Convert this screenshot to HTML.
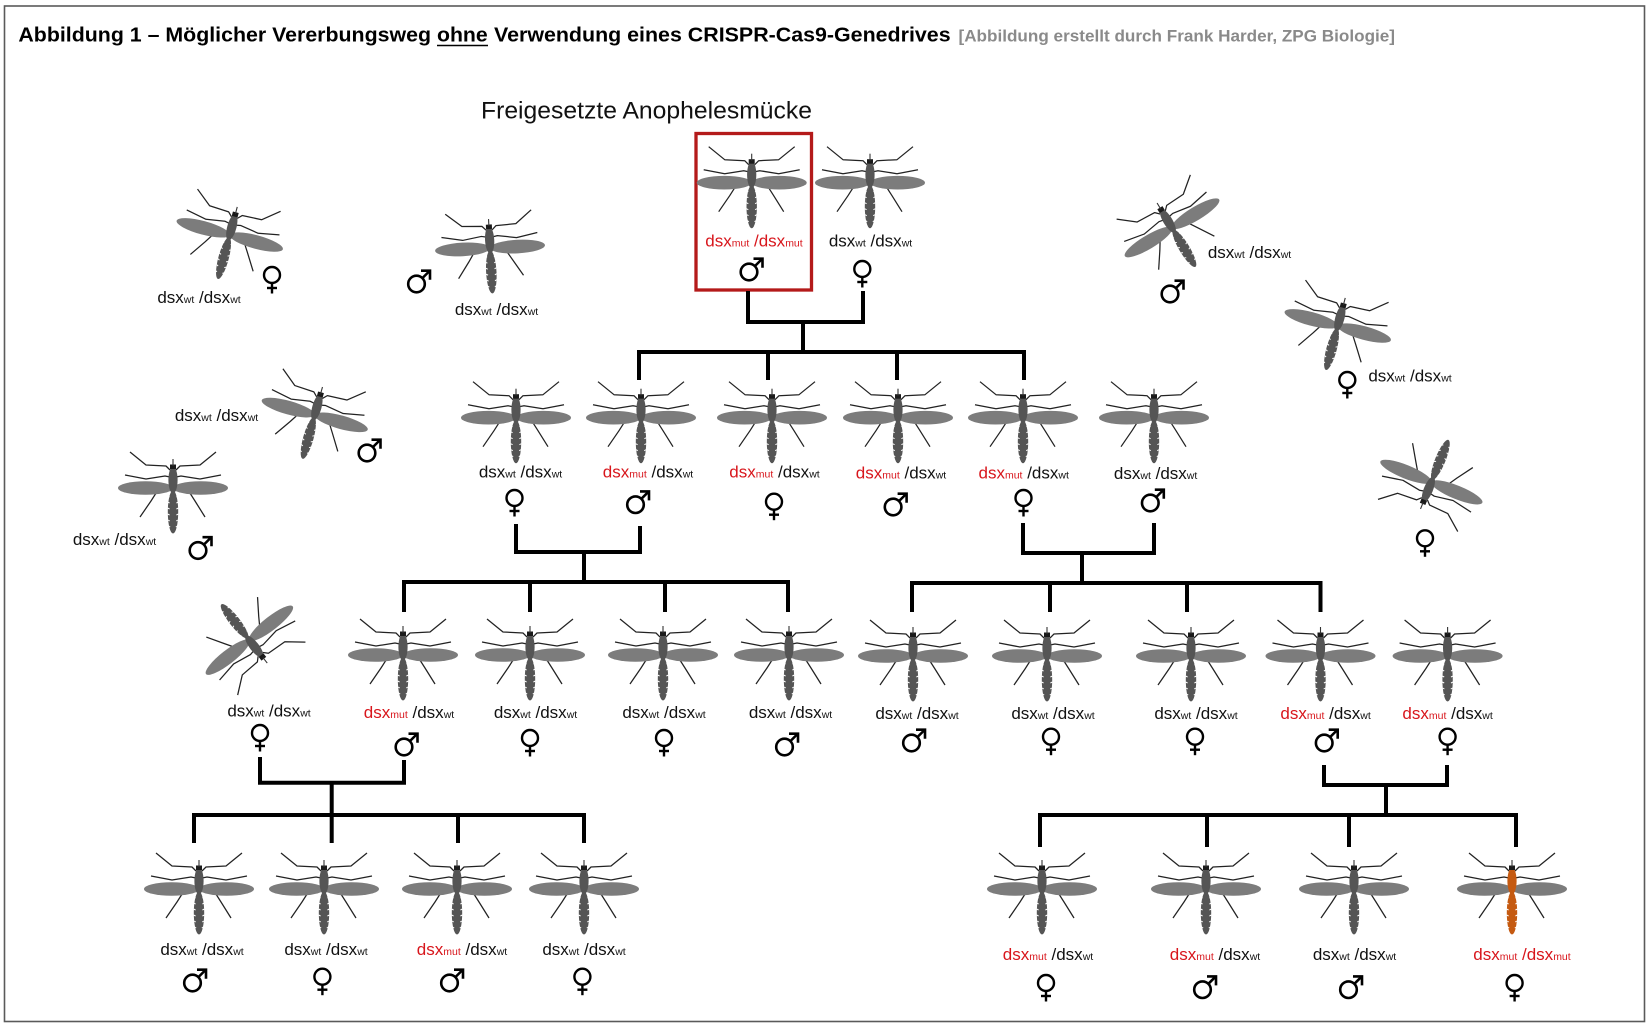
<!DOCTYPE html>
<html><head><meta charset="utf-8">
<style>
html,body{margin:0;padding:0;background:#fff;}
svg{display:block;}
.lb{font-family:"Liberation Sans",Arial,sans-serif;font-size:17px;fill:#111;}
.s{font-size:10.5px;}
.r{fill:#d8161c;}
</style></head>
<body>
<svg width="1648" height="1027" viewBox="0 0 1648 1027" xmlns="http://www.w3.org/2000/svg">
<defs>
  <g id="legs" fill="none" stroke="#222" stroke-width="1.25" stroke-linejoin="round">
    <polyline points="-3,-17 -7,-21 -27,-22 -43,-35"/>
    <polyline points="3,-17 7,-21 27,-22 43,-35"/>
    <polyline points="-3,-10 -8,-11 -27,-8 -48,-12"/>
    <polyline points="3,-10 8,-11 27,-8 48,-12"/>
    <polyline points="-4,0 -15,3 -22,14 -33,30"/>
    <polyline points="4,0 15,3 22,14 32,30"/>
  </g>
  <g id="wings" fill="#7c7c7c">
    <ellipse cx="-27.5" cy="1" rx="27.5" ry="6.8"/>
    <ellipse cx="27.5" cy="1" rx="27.5" ry="6.8"/>
  </g>
  <g id="notch" stroke="#fff" stroke-width="1">
    <line x1="-5.4" y1="9" x2="-3.4" y2="10"/><line x1="5.4" y1="9" x2="3.4" y2="10"/>
    <line x1="-5.4" y1="15" x2="-3.4" y2="16"/><line x1="5.4" y1="15" x2="3.4" y2="16"/>
    <line x1="-5.4" y1="21" x2="-3.4" y2="22"/><line x1="5.4" y1="21" x2="3.4" y2="22"/>
    <line x1="-5.4" y1="27" x2="-3.4" y2="28"/><line x1="5.4" y1="27" x2="3.4" y2="28"/>
    <line x1="-5" y1="33" x2="-3.2" y2="34"/><line x1="5" y1="33" x2="3.2" y2="34"/>
    <line x1="-4.4" y1="39" x2="-2.8" y2="40"/><line x1="4.4" y1="39" x2="2.8" y2="40"/>
  </g>
  <g id="mq">
    <use href="#legs"/>
    <use href="#wings"/>
    <ellipse cx="0" cy="-7" rx="4.6" ry="13.5" fill="#555"/>
    <ellipse cx="0" cy="25" rx="5.2" ry="21.5" fill="#555"/>
    <use href="#notch"/>
    <rect x="-3" y="-22.5" width="6" height="4.5" fill="#1a1a1a"/>
    <line x1="0" y1="-28" x2="0" y2="-21" stroke="#333" stroke-width="1.1"/>
  </g>
  <g id="mqo">
    <use href="#legs"/>
    <use href="#wings"/>
    <ellipse cx="0" cy="-7" rx="4.6" ry="13.5" fill="#c55a11"/>
    <ellipse cx="0" cy="25" rx="5.2" ry="21.5" fill="#c55a11"/>
    <use href="#notch"/>
    <rect x="-3" y="-22.5" width="6" height="4.5" fill="#1a1a1a"/>
    <line x1="0" y1="-28" x2="0" y2="-21" stroke="#333" stroke-width="1.1"/>
  </g>
  <g id="male" fill="none" stroke="#000" stroke-width="2.6">
    <circle cx="-3.5" cy="3" r="8.3"/>
    <line x1="2.5" y1="-3" x2="9.5" y2="-10"/>
    <polyline points="1,-10.3 10,-10.3 10,-1.3" stroke-linejoin="miter"/>
  </g>
  <g id="fem" fill="none" stroke="#000" stroke-width="2.4">
    <circle cx="0" cy="0" r="8"/>
    <line x1="0" y1="8" x2="0" y2="18.5"/>
    <line x1="-5" y1="13" x2="5" y2="13"/>
  </g>
</defs>

<rect x="0" y="0" width="1648" height="1027" fill="#fff"/>
<rect x="4.5" y="6" width="1640" height="1015.5" fill="none" stroke="#5a5a5a" stroke-width="1.6"/>

<!-- Title -->
<g font-family="'Liberation Sans',Arial,sans-serif" font-weight="bold" font-size="20" fill="#000">
  <text x="18.4" y="41.7" textLength="412.6" lengthAdjust="spacingAndGlyphs">Abbildung 1 – Möglicher Vererbungsweg</text>
  <text x="437" y="41.7" textLength="50.7" lengthAdjust="spacingAndGlyphs">ohne</text>
  <text x="494" y="41.7" textLength="456.6" lengthAdjust="spacingAndGlyphs">Verwendung eines CRISPR-Cas9-Genedrives</text>
</g>
<line x1="437" y1="45.5" x2="488" y2="45.5" stroke="#000" stroke-width="1.6"/>
<text x="958.5" y="41.7" font-family="'Liberation Sans',Arial,sans-serif" font-weight="bold" font-size="17" fill="#8a8a8a" textLength="436.5" lengthAdjust="spacingAndGlyphs">[Abbildung erstellt durch Frank Harder, ZPG Biologie]</text>

<text x="481" y="118.3" font-family="'Liberation Sans',Arial,sans-serif" font-size="24" fill="#111" textLength="331" lengthAdjust="spacingAndGlyphs">Freigesetzte Anophelesmücke</text>

<!-- red box -->
<rect x="696" y="133.5" width="115.5" height="156.5" fill="none" stroke="#b41a1a" stroke-width="3.3"/>

<!-- connectors -->
<g fill="none" stroke="#000" stroke-width="4" stroke-linejoin="miter">
  <polyline points="748,291 748,322 863,322 863,291"/>
  <line x1="803" y1="322" x2="803" y2="352"/>
  <polyline points="639,380 639,352 1024,352 1024,380"/>
  <line x1="768" y1="352" x2="768" y2="380"/>
  <line x1="897" y1="352" x2="897" y2="380"/>

  <polyline points="516,524 516,552 640,552 640,526"/>
  <line x1="584" y1="552" x2="584" y2="583"/>
  <polyline points="404,612 404,582 788,582 788,612"/>
  <line x1="530" y1="582" x2="530" y2="612"/>
  <line x1="665" y1="582" x2="665" y2="612"/>

  <polyline points="1023,523 1023,553 1154,553 1154,523"/>
  <line x1="1082" y1="553" x2="1082" y2="583"/>
  <polyline points="912,612 912,583 1320.5,583 1320.5,612"/>
  <line x1="1050" y1="583" x2="1050" y2="612"/>
  <line x1="1187" y1="583" x2="1187" y2="612"/>

  <polyline points="260,757 260,782.7 404,782.7 404,760"/>
  <line x1="331.7" y1="782.7" x2="331.7" y2="815"/>
  <polyline points="194,843 194,815 584,815 584,843"/>
  <line x1="331.7" y1="815" x2="331.7" y2="843"/>
  <line x1="458" y1="815" x2="458" y2="843"/>

  <polyline points="1324,765 1324,785 1447,785 1447,765"/>
  <line x1="1386" y1="785" x2="1386" y2="815"/>
  <polyline points="1040,847 1040,815 1516,815 1516,847"/>
  <line x1="1207" y1="815" x2="1207" y2="847"/>
  <line x1="1349" y1="815" x2="1349" y2="847"/>
</g>

<!-- mosquitoes -->
<use href="#mq" transform="translate(751.7,181.7)"/>
<use href="#mq" transform="translate(870,181.7)"/>
<use href="#mq" transform="translate(230,234) rotate(15)"/>
<use href="#mq" transform="translate(490,247) rotate(-3)"/>
<use href="#mq" transform="translate(315,414) rotate(15.5)"/>
<use href="#mq" transform="translate(173,487)"/>
<use href="#mq" transform="translate(1171.5,227) rotate(-31)"/>
<use href="#mq" transform="translate(1338,325) rotate(15)"/>
<use href="#mq" transform="translate(1431,483) rotate(202)"/>
<use href="#mq" transform="translate(250,641) rotate(142)"/>

<use href="#mq" transform="translate(516,416.7)"/>
<use href="#mq" transform="translate(641,416.7)"/>
<use href="#mq" transform="translate(772,416.7)"/>
<use href="#mq" transform="translate(898,416.7)"/>
<use href="#mq" transform="translate(1023,416.7)"/>
<use href="#mq" transform="translate(1154,416.7)"/>

<use href="#mq" transform="translate(403,654)"/>
<use href="#mq" transform="translate(530,654)"/>
<use href="#mq" transform="translate(663,654)"/>
<use href="#mq" transform="translate(789,654)"/>

<use href="#mq" transform="translate(913,655)"/>
<use href="#mq" transform="translate(1047,655)"/>
<use href="#mq" transform="translate(1191,655)"/>
<use href="#mq" transform="translate(1320.5,655)"/>
<use href="#mq" transform="translate(1447.6,655)"/>

<use href="#mq" transform="translate(199,888)"/>
<use href="#mq" transform="translate(324,888)"/>
<use href="#mq" transform="translate(457,888)"/>
<use href="#mq" transform="translate(584,888)"/>

<use href="#mq" transform="translate(1042,888)"/>
<use href="#mq" transform="translate(1206,888)"/>
<use href="#mq" transform="translate(1354,888)"/>
<use href="#mqo" transform="translate(1512,888)"/>

<!-- labels -->
<g class="lb" text-anchor="middle">
  <text x="754" y="246.7"><tspan class="r">dsx<tspan class="s">mut</tspan> /dsx<tspan class="s">mut</tspan></tspan></text>
  <text x="870.5" y="246.7">dsx<tspan class="s">wt</tspan> /dsx<tspan class="s">wt</tspan></text>

  <text x="199" y="303">dsx<tspan class="s">wt</tspan> /dsx<tspan class="s">wt</tspan></text>
  <text x="496.5" y="315">dsx<tspan class="s">wt</tspan> /dsx<tspan class="s">wt</tspan></text>
  <text x="216.5" y="421">dsx<tspan class="s">wt</tspan> /dsx<tspan class="s">wt</tspan></text>
  <text x="114.5" y="545">dsx<tspan class="s">wt</tspan> /dsx<tspan class="s">wt</tspan></text>
  <text x="1249.5" y="258">dsx<tspan class="s">wt</tspan> /dsx<tspan class="s">wt</tspan></text>
  <text x="1410" y="381.7">dsx<tspan class="s">wt</tspan> /dsx<tspan class="s">wt</tspan></text>
  <text x="269" y="716.7">dsx<tspan class="s">wt</tspan> /dsx<tspan class="s">wt</tspan></text>

  <text x="520.5" y="477.5">dsx<tspan class="s">wt</tspan> /dsx<tspan class="s">wt</tspan></text>
  <text x="648" y="477.5"><tspan class="r">dsx<tspan class="s">mut</tspan></tspan> /dsx<tspan class="s">wt</tspan></text>
  <text x="774.5" y="477.5"><tspan class="r">dsx<tspan class="s">mut</tspan></tspan> /dsx<tspan class="s">wt</tspan></text>
  <text x="901" y="478.5"><tspan class="r">dsx<tspan class="s">mut</tspan></tspan> /dsx<tspan class="s">wt</tspan></text>
  <text x="1023.7" y="478.5"><tspan class="r">dsx<tspan class="s">mut</tspan></tspan> /dsx<tspan class="s">wt</tspan></text>
  <text x="1155.6" y="479">dsx<tspan class="s">wt</tspan> /dsx<tspan class="s">wt</tspan></text>

  <text x="409" y="718"><tspan class="r">dsx<tspan class="s">mut</tspan></tspan> /dsx<tspan class="s">wt</tspan></text>
  <text x="535.5" y="718">dsx<tspan class="s">wt</tspan> /dsx<tspan class="s">wt</tspan></text>
  <text x="664" y="718">dsx<tspan class="s">wt</tspan> /dsx<tspan class="s">wt</tspan></text>
  <text x="790.5" y="718">dsx<tspan class="s">wt</tspan> /dsx<tspan class="s">wt</tspan></text>

  <text x="917" y="719">dsx<tspan class="s">wt</tspan> /dsx<tspan class="s">wt</tspan></text>
  <text x="1053" y="719">dsx<tspan class="s">wt</tspan> /dsx<tspan class="s">wt</tspan></text>
  <text x="1196" y="719">dsx<tspan class="s">wt</tspan> /dsx<tspan class="s">wt</tspan></text>
  <text x="1325.6" y="719"><tspan class="r">dsx<tspan class="s">mut</tspan></tspan> /dsx<tspan class="s">wt</tspan></text>
  <text x="1447.6" y="719"><tspan class="r">dsx<tspan class="s">mut</tspan></tspan> /dsx<tspan class="s">wt</tspan></text>

  <text x="202" y="955">dsx<tspan class="s">wt</tspan> /dsx<tspan class="s">wt</tspan></text>
  <text x="326" y="955">dsx<tspan class="s">wt</tspan> /dsx<tspan class="s">wt</tspan></text>
  <text x="462" y="955"><tspan class="r">dsx<tspan class="s">mut</tspan></tspan> /dsx<tspan class="s">wt</tspan></text>
  <text x="584" y="955">dsx<tspan class="s">wt</tspan> /dsx<tspan class="s">wt</tspan></text>

  <text x="1048" y="960"><tspan class="r">dsx<tspan class="s">mut</tspan></tspan> /dsx<tspan class="s">wt</tspan></text>
  <text x="1215" y="960"><tspan class="r">dsx<tspan class="s">mut</tspan></tspan> /dsx<tspan class="s">wt</tspan></text>
  <text x="1354.5" y="960">dsx<tspan class="s">wt</tspan> /dsx<tspan class="s">wt</tspan></text>
  <text x="1522" y="960"><tspan class="r">dsx<tspan class="s">mut</tspan> /dsx<tspan class="s">mut</tspan></tspan></text>
</g>

<!-- sex symbols -->
<use href="#male" transform="translate(752.5,269)"/>
<use href="#male" transform="translate(420,281)"/>
<use href="#male" transform="translate(370.5,450)"/>
<use href="#male" transform="translate(201.5,547.5)"/>
<use href="#male" transform="translate(1173.5,291)"/>
<use href="#male" transform="translate(639,501.7)"/>
<use href="#male" transform="translate(896.6,504)"/>
<use href="#male" transform="translate(1153.8,500)"/>
<use href="#male" transform="translate(407.5,744)"/>
<use href="#male" transform="translate(788,744)"/>
<use href="#male" transform="translate(915,740)"/>
<use href="#male" transform="translate(1327.7,740)"/>
<use href="#male" transform="translate(196,980)"/>
<use href="#male" transform="translate(453,980)"/>
<use href="#male" transform="translate(1206,986.7)"/>
<use href="#male" transform="translate(1352,986.7)"/>

<use href="#fem" transform="translate(862.3,269)"/>
<use href="#fem" transform="translate(272,275)"/>
<use href="#fem" transform="translate(1347.3,380)"/>
<use href="#fem" transform="translate(1425,538.3)"/>
<use href="#fem" transform="translate(260,733)"/>
<use href="#fem" transform="translate(514.5,498)"/>
<use href="#fem" transform="translate(774,501.7)"/>
<use href="#fem" transform="translate(1023.5,498)"/>
<use href="#fem" transform="translate(530,738)"/>
<use href="#fem" transform="translate(664,738)"/>
<use href="#fem" transform="translate(1051,736.7)"/>
<use href="#fem" transform="translate(1195,736.7)"/>
<use href="#fem" transform="translate(1447.6,736.7)"/>
<use href="#fem" transform="translate(322.4,976.7)"/>
<use href="#fem" transform="translate(582.4,976.7)"/>
<use href="#fem" transform="translate(1046,983)"/>
<use href="#fem" transform="translate(1514.6,983)"/>
</svg>
</body></html>
